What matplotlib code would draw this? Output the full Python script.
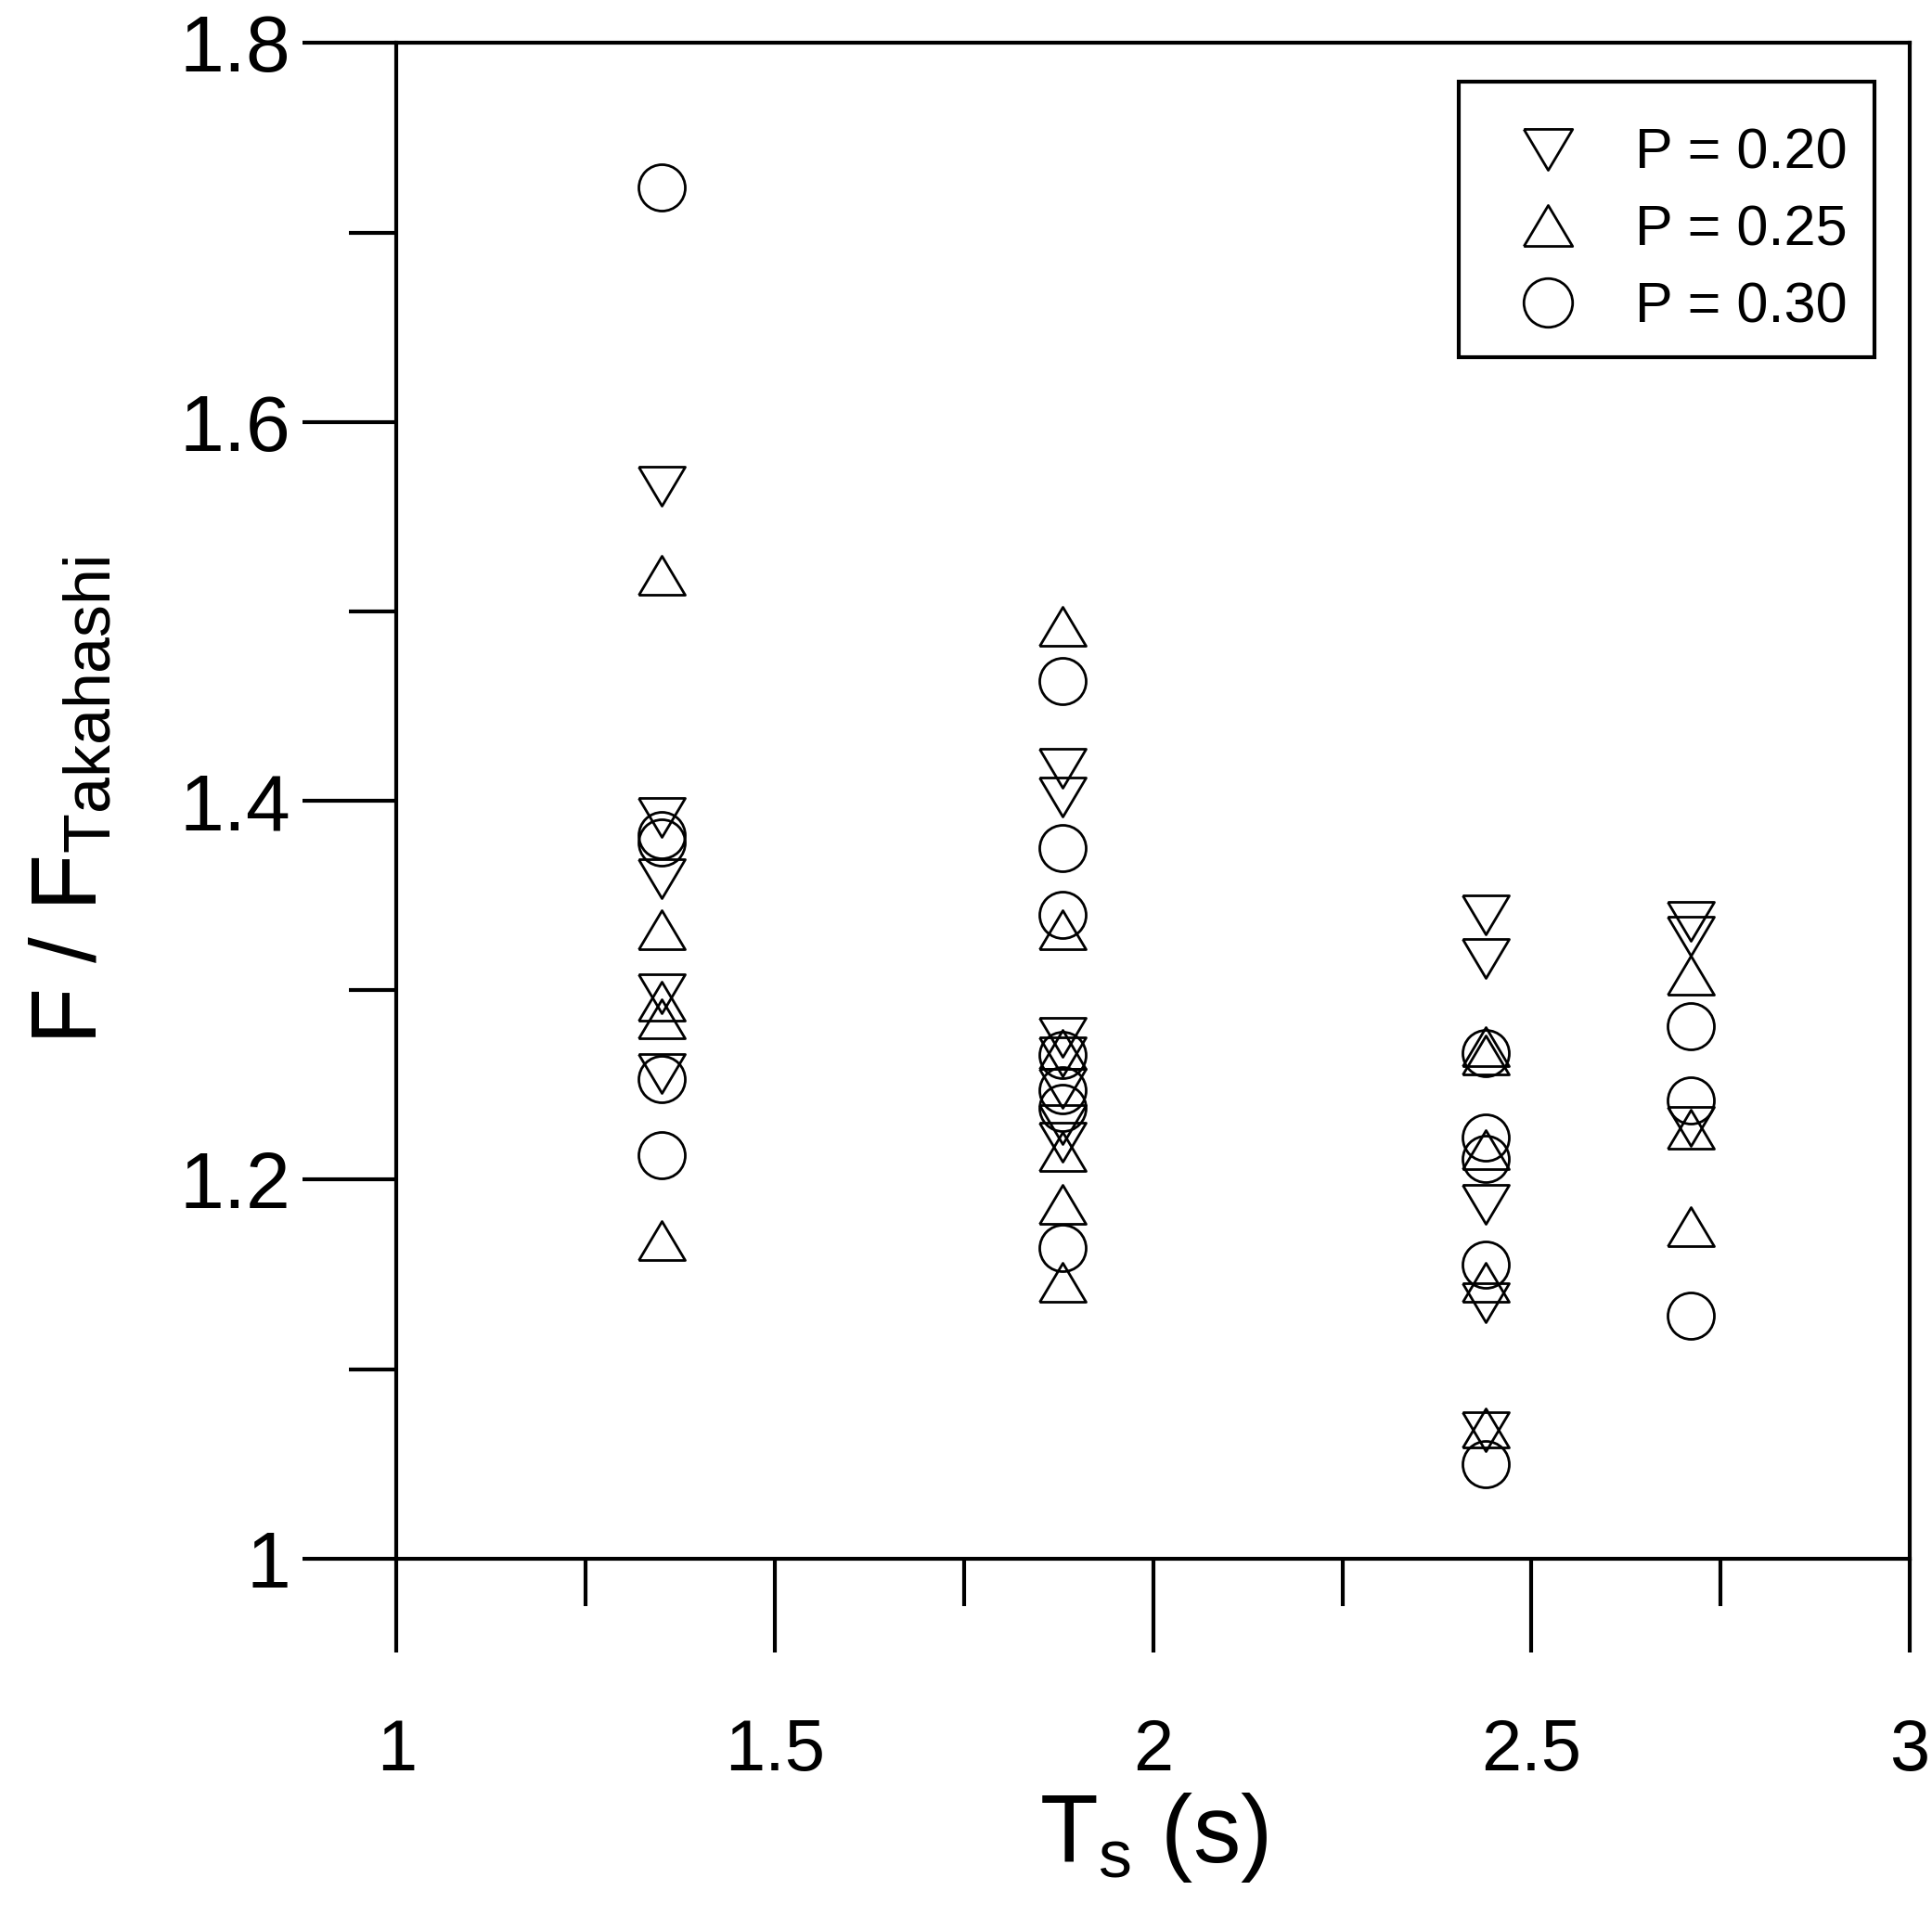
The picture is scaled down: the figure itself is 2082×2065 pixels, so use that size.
import matplotlib.pyplot as plt
from matplotlib.patches import Rectangle
from matplotlib.ticker import MultipleLocator

plt.rcParams['font.family'] = ['Liberation Sans', 'DejaVu Sans']
plt.rcParams['mathtext.fontset'] = 'custom'
plt.rcParams['mathtext.rm'] = 'Liberation Sans'
plt.rcParams['mathtext.it'] = 'Liberation Sans:italic'

# values, one list pair per P
p20_ts = [1.35, 1.35, 1.35, 1.35, 1.35,
          1.88, 1.88, 1.88, 1.88, 1.88, 1.88, 1.88,
          2.44, 2.44, 2.44, 2.44, 2.44,
          2.71, 2.71, 2.71]
p20_f = [1.566, 1.391, 1.359, 1.298, 1.256,
         1.417, 1.402, 1.275, 1.265, 1.248, 1.229, 1.220,
         1.340, 1.317, 1.187, 1.135, 1.067,
         1.3365, 1.3285, 1.228]

p25_ts = [1.35, 1.35, 1.35, 1.35, 1.35,
          1.88, 1.88, 1.88, 1.88, 1.88, 1.88,
          2.44, 2.44, 2.44, 2.44, 2.44,
          2.71, 2.71, 2.71]
p25_f = [1.519, 1.332, 1.294, 1.285, 1.168,
         1.492, 1.332, 1.269, 1.215, 1.187, 1.146,
         1.270, 1.266, 1.216, 1.146, 1.069,
         1.308, 1.2265, 1.175]

p30_ts = [1.35, 1.35, 1.35, 1.35, 1.35,
          1.88, 1.88, 1.88, 1.88, 1.88, 1.88, 1.88,
          2.44, 2.44, 2.44, 2.44, 2.44,
          2.71, 2.71, 2.71]
p30_f = [1.724, 1.382, 1.378, 1.253, 1.213,
         1.463, 1.375, 1.340, 1.266, 1.247, 1.238, 1.164,
         1.267, 1.222, 1.211, 1.155, 1.050,
         1.281, 1.242, 1.128]

labels = ['P = 0.20', 'P = 0.25', 'P = 0.30']

x_ticks = [1, 1.5, 2, 2.5, 3]
x_ticklabels = ['1', '1.5', '2', '2.5', '3']
y_ticks = [1, 1.2, 1.4, 1.6, 1.8]
y_ticklabels = ['1', '1.2', '1.4', '1.6', '1.8']

# flattened triangles (height / width ~ 0.84)
tri_down = [(-1, 0.84), (1, 0.84), (0, -0.84), (-1, 0.84)]
tri_up = [(-1, -0.84), (1, -0.84), (0, 0.84), (-1, -0.84)]

W, H = 2082, 2065
fig = plt.figure(figsize=(W / 100, H / 100), dpi=100)
ax = fig.add_axes([0.2053, 0.1866, 0.7832, 0.7909])

mk = dict(linestyle='none', markersize=36, markerfacecolor='none',
          markeredgecolor='black', markeredgewidth=2.0)
ax.plot(p20_ts, p20_f, marker=tri_down, label=labels[0], **mk)
ax.plot(p25_ts, p25_f, marker=tri_up, label=labels[1], **mk)
ax.plot(p30_ts, p30_f, marker='o', label=labels[2], **mk)

ax.set_xlim(1, 3)
ax.set_ylim(1, 1.8)
ax.set_xticks(x_ticks)
ax.set_xticklabels(x_ticklabels)
ax.set_yticks(y_ticks)
ax.set_yticklabels(y_ticklabels)
ax.xaxis.set_minor_locator(MultipleLocator(0.25))
ax.yaxis.set_minor_locator(MultipleLocator(0.1))

lw = 3.0
for s in ax.spines.values():
    s.set_linewidth(lw)
ax.tick_params(which='major', direction='out', length=73, width=lw)
ax.tick_params(axis='x', which='major', pad=50, labelsize=56)
ax.tick_params(axis='y', which='major', pad=9, labelsize=62)
ax.tick_params(which='minor', direction='out', length=37, width=lw)

ax.set_xlabel(r'T$_\mathrm{s}$ (s)', fontsize=74)
ax.set_ylabel(r'F / F$_\mathrm{Takahashi}$', fontsize=72)
ax.xaxis.set_label_coords(0.5, -0.153)
ax.yaxis.set_label_coords(-0.185, 0.5)

# legend entries without frame, box drawn separately
leg = ax.legend(loc='upper left', bbox_to_anchor=(1607 / W, 1 - 138 / H),
                bbox_transform=fig.transFigure, fontsize=44, numpoints=1,
                frameon=False, borderpad=0, handlelength=2.0, handletextpad=0.54,
                labelspacing=0.42, borderaxespad=0, markerscale=1.05)
box = Rectangle((1572 / W, 1 - 385 / H), 448 / W, 297 / H, transform=fig.transFigure,
                fill=False, edgecolor='black', linewidth=lw)
fig.add_artist(box)

fig.savefig('out.png', dpi=100)
